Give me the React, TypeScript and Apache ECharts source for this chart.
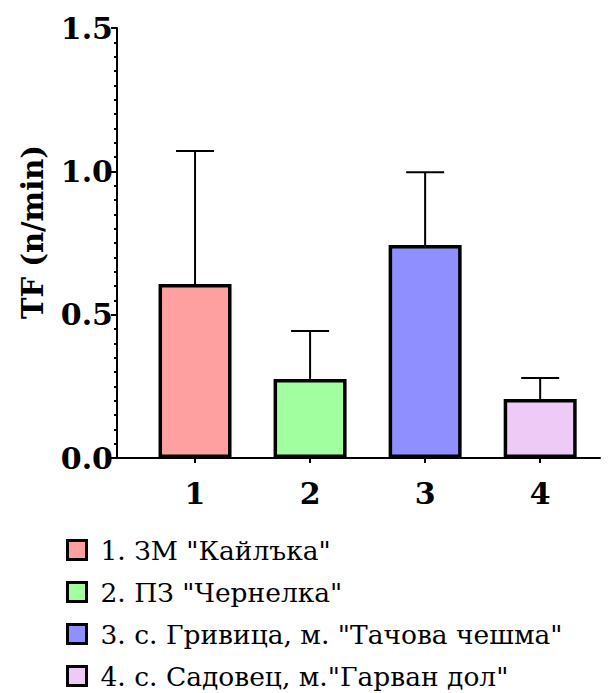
import React, { useEffect, useRef } from "react";
import * as echarts from "echarts";

const categories = [1, 2, 3, 4];
const categoryLabels = ["1", "2", "3", "4"];
const seriesNames = [
  '1. ЗМ "Кайлъка"',
  '2. ПЗ "Чернелка"',
  '3. с. Гривица, м. "Тачова чешма"',
  '4. с. Садовец, м."Гарван дол"',
];
const means = [0.607, 0.276, 0.743, 0.206];
const upperErrors = [1.071, 0.443, 0.997, 0.279];
const colors = ["#FFA0A0", "#A2FFA0", "#8F8FFF", "#EECBF7"];
const yTicks = [0, 0.5, 1.0, 1.5];

const FONT = "DejaVu Serif";

export default function App() {
  const ref = useRef<HTMLDivElement>(null);
  useEffect(() => {
    if (!ref.current) return;
    const chart = echarts.init(ref.current, null, { renderer: "svg" });

    const barSeries = categories.map((c, i) => ({
      name: seriesNames[i],
      type: "bar",
      data: [[c, means[i]]],
      barWidth: 73,
      barGap: "-100%",
      itemStyle: { color: colors[i], borderColor: "#000", borderWidth: 3.5 },
      z: 2,
    }));

    const errSeries = {
      type: "custom",
      name: "err",
      data: categories.map((c, i) => [c, means[i], upperErrors[i]]),
      z: 1,
      renderItem: (params: any, api: any) => {
        const x = api.value(0);
        const m = api.coord([x, api.value(1)]);
        const t = api.coord([x, api.value(2)]);
        const hw = 19;
        return {
          type: "group",
          children: [
            { type: "line", shape: { x1: m[0], y1: m[1], x2: t[0], y2: t[1] }, style: { stroke: "#000", lineWidth: 2 } },
            { type: "line", shape: { x1: t[0] - hw, y1: t[1], x2: t[0] + hw, y2: t[1] }, style: { stroke: "#000", lineWidth: 2 } },
          ],
        };
      },
    };

    chart.setOption({
      animation: false,
      textStyle: { fontFamily: FONT },
      grid: { left: 117, right: 14, top: 28, bottom: 235 },
      legend: {
        data: seriesNames,
        orient: "vertical",
        left: 66,
        top: 536,
        padding: 0,
        itemWidth: 19,
        itemHeight: 19,
        itemGap: 14,
        icon: "rect",
        textStyle: { fontFamily: FONT, fontSize: 26.5, lineHeight: 28, color: "#000", padding: [0, 0, 0, 9] },
        itemStyle: { borderColor: "#000", borderWidth: 3 },
        selectedMode: false,
      },
      xAxis: {
        type: "value",
        min: 0.3217,
        max: 4.52,
        splitLine: { show: false },
        axisLine: { show: true, onZero: false, lineStyle: { color: "#000", width: 2 } },
        axisTick: { show: true, customValues: categories, length: 5, lineStyle: { color: "#000", width: 2 } },
        axisLabel: {
          customValues: categories,
          formatter: (v: number) => categoryLabels[categories.indexOf(v)] ?? "",
          fontFamily: FONT,
          fontWeight: "bold",
          fontSize: 30,
          color: "#000",
          margin: 20,
        },
      },
      yAxis: {
        type: "value",
        min: 0,
        max: 1.5,
        interval: 0.5,
        name: "TF (n/min)",
        nameLocation: "middle",
        nameGap: 70,
        nameTextStyle: { fontFamily: FONT, fontWeight: "bold", fontSize: 29, color: "#000", padding: [0, 0, 0, 22] },
        splitLine: { show: false },
        axisLine: { show: true, lineStyle: { color: "#000", width: 2 } },
        axisTick: { show: true, length: 6, lineStyle: { color: "#000", width: 2 } },
        minorTick: { show: true, splitNumber: 10, length: 3, lineStyle: { color: "#000", width: 2 } },
        axisLabel: {
          formatter: (v: number) => (yTicks.includes(v) ? v.toFixed(1) : ""),
          fontFamily: FONT,
          fontWeight: "bold",
          fontSize: 30,
          color: "#000",
          margin: 4,
        },
      },
      series: [...barSeries, errSeries],
    });
    return () => chart.dispose();
  }, []);
  return <div ref={ref} style={{ width: 614, height: 693, position: "absolute", left: 0, top: 0 }} />;
}
